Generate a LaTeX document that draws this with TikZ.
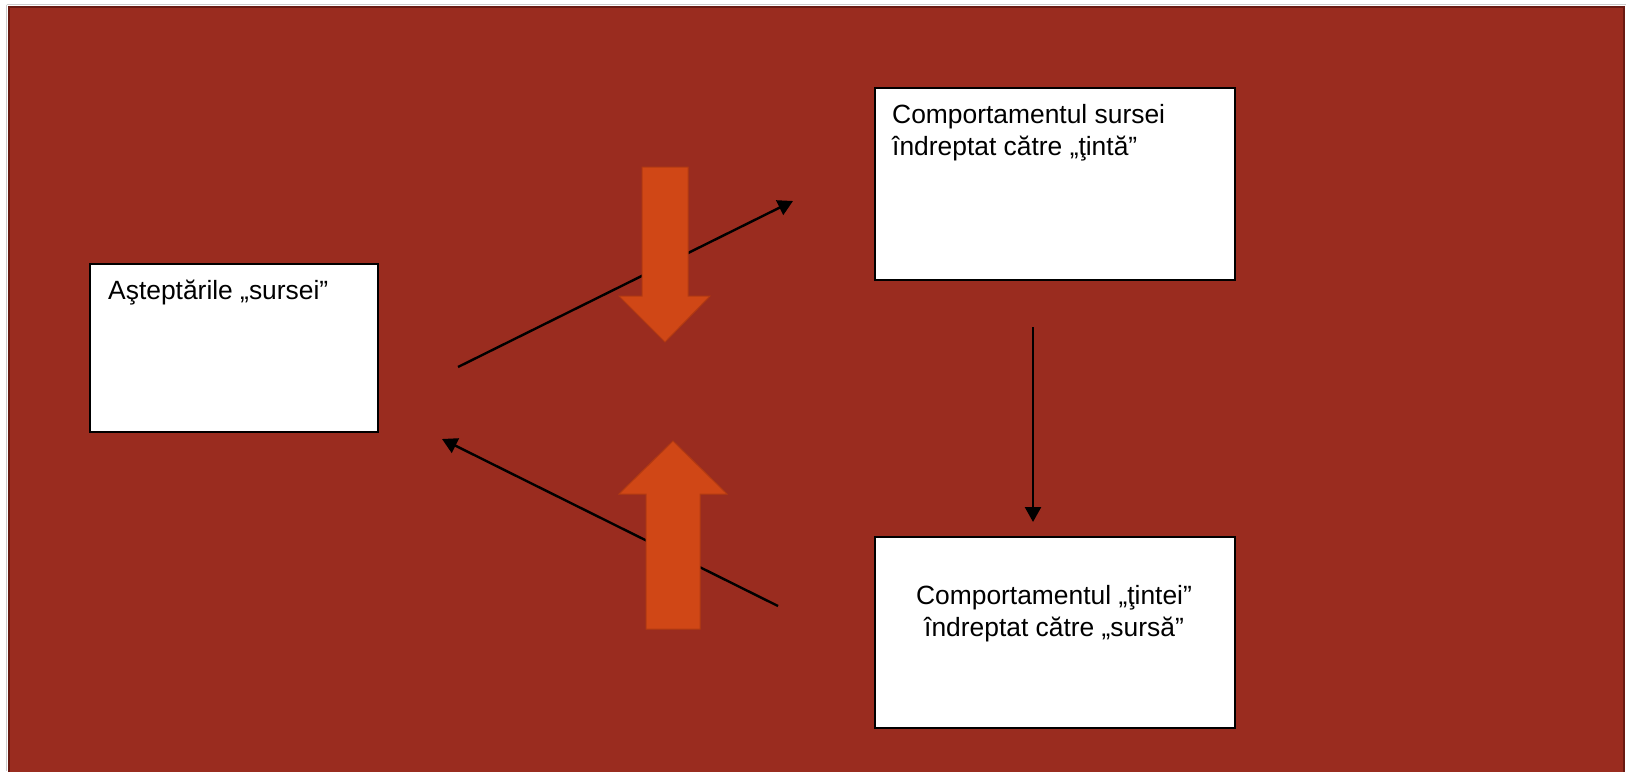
\documentclass[tikz,border=0pt]{standalone}
\usepackage{fontspec}
\setmainfont{Liberation Sans}
\usetikzlibrary{arrows.meta}
\definecolor{bgred}{HTML}{9A2C1F}
\definecolor{bgedge}{HTML}{6A1A12}
\definecolor{orng}{HTML}{D04716}
\definecolor{orngedge}{HTML}{B23A12}
\tikzset{
  box/.style={draw=black, line width=2pt, fill=white, inner sep=0pt},
  lbl/.style={inner sep=0pt, anchor=base west, font=\fontsize{26.4}{32}\selectfont},
  lblc/.style={inner sep=0pt, anchor=base, font=\fontsize{26.4}{32}\selectfont},
  conn/.style={draw=black, line width=2.4pt, -{Triangle[length=15pt,width=16pt]}},
  blockarrow/.style={fill=orng, draw=orngedge, line width=1pt, line join=miter}
}
\begin{document}
\begin{tikzpicture}[x=1pt,y=-1pt]
\useasboundingbox (0,0) rectangle (1629,771);
\fill[white] (0,0) rectangle (1629,771);
\draw[gray!40, line width=1pt] (6.5,4.5) -- (6.5,771);
\draw[gray!40, line width=1pt] (6.5,4.5) -- (1626,4.5);
\fill[bgred] (8,6) rectangle (1625,772);
\draw[bgedge, line width=2pt] (9,772) -- (9,7) -- (1624,7) -- (1624,772);

% boxes
\node[box, minimum width=288pt, minimum height=168pt, anchor=north west] (src) at (89,263) {};
\node[box, minimum width=360pt, minimum height=192pt, anchor=north west] (beh) at (874,87) {};
\node[box, minimum width=360pt, minimum height=191pt, anchor=north west] (tgt) at (874,536) {};

% texts
\node[lbl] (t1) at (108,299) {Aşteptările „sursei”};
\node[lbl] (t2a) at (892,123) {Comportamentul sursei};
\node[lbl] (t2b) at (892,155) {îndreptat către „ţintă”};
\node[lblc] (t3a) at (1054,604) {Comportamentul „ţintei”};
\node[lblc] (t3b) at (1054,636) {îndreptat către „sursă”};

% connector end points
\coordinate (a1s) at (458,367);
\coordinate (a1e) at (793,201);
\coordinate (a2s) at (778,606);
\coordinate (a2e) at (442,439);
\coordinate (a3s) at (1033,327);
\coordinate (a3e) at (1033,522);

\draw[conn] (a1s) -- (a1e);
\draw[conn] (a2s) -- (a2e);
\draw[conn] (a3s) -- (a3e);

% orange block arrows
\draw[blockarrow] (642,167) -- (688,167) -- (688,296) -- (710,296) -- (665,342) -- (619,296) -- (642,296) -- cycle;
\draw[blockarrow] (646,629) -- (700,629) -- (700,494) -- (727,494) -- (673,441) -- (619,494) -- (646,494) -- cycle;
\end{tikzpicture}
\end{document}
